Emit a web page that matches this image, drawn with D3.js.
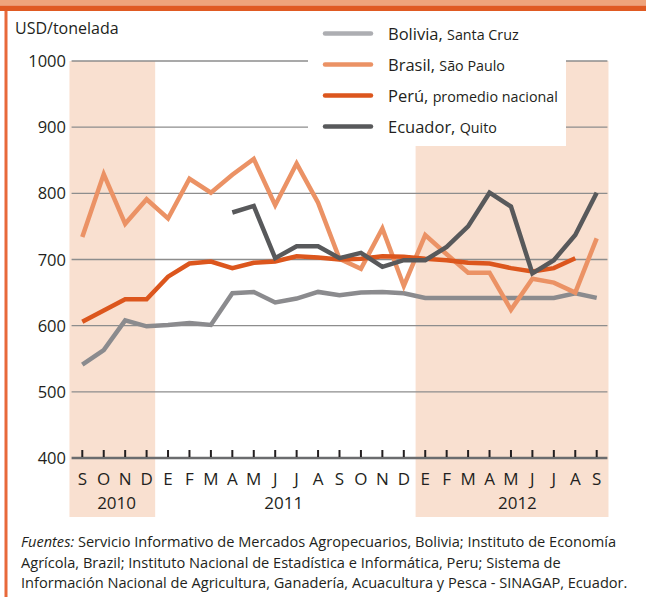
<!DOCTYPE html>
<html>
<head>
    <style>
        body { margin: 0; background: #fff; }
        svg { display: block; font-family: "Open Sans", sans-serif; }
    </style>
</head>
<body>
    <script src="https://d3js.org/d3.v7.min.js"></script>
    <script>
        const width = 646;
        const height = 597;

        // months from Sep 2010 to Sep 2012
        const months = ["S","O","N","D","E","F","M","A","M","J","J","A","S","O","N","D","E","F","M","A","M","J","J","A","S"];
        const years = [{label: "2010", at: 1.6}, {label: "2011", at: 9.4}, {label: "2012", at: 20.3}];
        const shaded = [[-0.6, 3.4], [15.55, 24.55]];
        const yTicks = [400, 500, 600, 700, 800, 900, 1000];

        const bolivia = [541, 563, 608, 599, 601, 604, 601, 649, 651, 635, 641, 651, 646, 650, 651, 649, 642, 642, 642, 642, 642, 642, 642, 649, 642];
        const brasil  = [734, 829, 754, 791, 762, 822, 801, 828, 852, 782, 845, 786, 701, 686, 747, 660, 737, 708, 680, 680, 624, 671, 665, 650, 732];
        const peru    = [606, 623, 640, 640, 674, 694, 697, 687, 695, 697, 705, 703, 700, 701, 705, 704, 701, 699, 695, 694, 687, 682, 687, 702, null];
        const ecuador = [null, null, null, null, null, null, null, 771, 781, 702, 720, 720, 702, 710, 689, 699, 699, 719, 750, 801, 780, 679, 699, 737, 801];

        const series = [
            {name: "Bolivia,", place: "Santa Cruz", values: bolivia, color: "#8b8b8e", legend: "#adaeb2"},
            {name: "Brasil,", place: "São Paulo", values: brasil, color: "#eb9265", legend: "#eb9265"},
            {name: "Perú,", place: "promedio nacional", values: peru, color: "#dc561d", legend: "#dc561d"},
            {name: "Ecuador,", place: "Quito", values: ecuador, color: "#58595b", legend: "#58595b"}
        ];

        const svg = d3.select("body").append("svg").attr("width", width).attr("height", height);

        const x = d3.scaleLinear().domain([0, months.length - 1]).range([82.3, 596.7]);
        const y = d3.scaleLinear().domain([400, 1000]).range([458, 61]);

        // page frame
        svg.append("rect").attr("x", 0).attr("y", 0).attr("width", width).attr("height", 5.5).attr("fill", "#efa47b");
        svg.append("rect").attr("x", 0).attr("y", 5.5).attr("width", width).attr("height", 5.5).attr("fill", "#e05a22");
        svg.append("rect").attr("x", 4.5).attr("y", 11).attr("width", 3).attr("height", height - 11).attr("fill", "#e8693a");

        // shaded years
        svg.selectAll("rect.band").data(shaded).enter().append("rect")
            .attr("class", "band")
            .attr("x", d => x(d[0]))
            .attr("width", d => x(d[1]) - x(d[0]))
            .attr("y", y(1000))
            .attr("height", 517 - y(1000))
            .attr("fill", "#f9e0d0");

        // gridlines
        svg.selectAll("line.grid").data(yTicks.slice(1)).enter().append("line")
            .attr("class", "grid")
            .attr("x1", x(-0.5)).attr("x2", x(24.5))
            .attr("y1", d => y(d)).attr("y2", d => y(d))
            .attr("stroke", "#8d8d8d").attr("stroke-width", 1.4);

        // y labels
        svg.selectAll("text.ylab").data(yTicks).enter().append("text")
            .attr("class", "ylab")
            .attr("x", 66).attr("y", d => y(d) + 6)
            .attr("text-anchor", "end")
            .attr("font-size", 16.5).attr("fill", "#231f20")
            .text(d => d);

        svg.append("text").attr("x", 15).attr("y", 34)
            .attr("font-size", 16).attr("fill", "#231f20")
            .text("USD/tonelada");

        // x axis
        svg.append("line")
            .attr("x1", x(-0.5)).attr("x2", x(24.5))
            .attr("y1", y(400)).attr("y2", y(400))
            .attr("stroke", "#6b6c6e").attr("stroke-width", 2.5);

        svg.selectAll("line.tick").data(months).enter().append("line")
            .attr("class", "tick")
            .attr("x1", (d, i) => x(i)).attr("x2", (d, i) => x(i))
            .attr("y1", y(400) - 1).attr("y2", y(400) - 8)
            .attr("stroke", "#231f20").attr("stroke-width", 2);

        svg.selectAll("text.month").data(months).enter().append("text")
            .attr("class", "month")
            .attr("x", (d, i) => x(i)).attr("y", 485)
            .attr("text-anchor", "middle")
            .attr("font-size", 17).attr("fill", "#231f20")
            .text(d => d);

        svg.selectAll("text.year").data(years).enter().append("text")
            .attr("class", "year")
            .attr("x", d => x(d.at)).attr("y", 509)
            .attr("text-anchor", "middle")
            .attr("font-size", 17).attr("fill", "#231f20")
            .text(d => d.label);

        // lines
        const line = d3.line()
            .defined(d => d != null)
            .x((d, i) => x(i))
            .y(d => y(d));

        svg.selectAll("path.series").data(series).enter().append("path")
            .attr("class", "series")
            .attr("d", d => line(d.values))
            .attr("fill", "none")
            .attr("stroke", d => d.color)
            .attr("stroke-width", 4.5)
            .attr("stroke-linejoin", "miter");

        // legend
        svg.append("rect").attr("x", 308).attr("y", 11).attr("width", 258).attr("height", 135).attr("fill", "#fff");
        const lg = svg.selectAll("g.legend").data(series).enter().append("g")
            .attr("class", "legend")
            .attr("transform", (d, i) => `translate(0, ${33.5 + i * 31})`);
        lg.append("line")
            .attr("x1", 325).attr("x2", 371)
            .attr("stroke", d => d.legend).attr("stroke-width", 4.5)
            .attr("stroke-linecap", "round");
        const lt = lg.append("text").attr("x", 388).attr("y", 6).attr("fill", "#231f20");
        lt.append("tspan").attr("font-size", 16.5).text(d => d.name + " ");
        lt.append("tspan").attr("font-size", 14.3).text(d => d.place);

        // sources
        const notes = [
            ["Fuentes:", " Servicio Informativo de Mercados Agropecuarios, Bolivia; Instituto de Economía"],
            ["", "Agrícola, Brazil; Instituto Nacional de Estadística e Informática, Peru; Sistema de"],
            ["", "Información Nacional de Agricultura, Ganadería, Acuacultura y Pesca - SINAGAP, Ecuador."]
        ];
        const nt = svg.selectAll("text.note").data(notes).enter().append("text")
            .attr("class", "note")
            .attr("x", 21).attr("y", (d, i) => 547 + i * 20.5)
            .attr("font-size", 14.6).attr("fill", "#231f20");
        nt.append("tspan").attr("font-style", "italic").text(d => d[0]);
        nt.append("tspan").text(d => d[1]);
    </script>
</body>
</html>
